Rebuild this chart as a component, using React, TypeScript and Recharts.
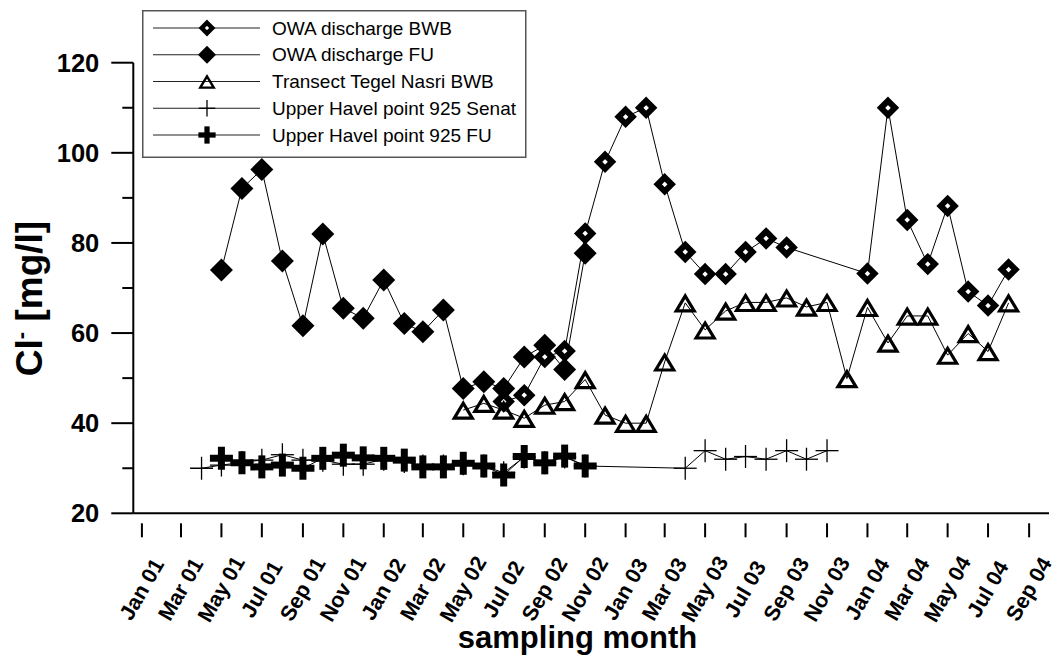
import React from 'react';
import { LineChart, Line, XAxis, YAxis, Legend } from 'recharts';

const FONT = "'Liberation Sans', Arial, Helvetica, sans-serif";

// Sampling months (first of month) and chloride concentrations in mg/l
const owaFuMonths = [
  '2001-05', '2001-06', '2001-07', '2001-08', '2001-09', '2001-10', '2001-11', '2001-12',
  '2002-01', '2002-02', '2002-03', '2002-04', '2002-05', '2002-06', '2002-07', '2002-08',
  '2002-09', '2002-10', '2002-11',
];
const owaFuValues = [
  74.0, 92.1, 96.3, 76.0, 61.6, 82.0, 65.5, 63.3,
  71.8, 62.1, 60.3, 65.1, 47.7, 49.2, 47.7, 54.7,
  57.3, 51.9, 77.7,
];

const owaBwbMonths = [
  '2002-07', '2002-08', '2002-09', '2002-10', '2002-11', '2002-12',
  '2003-01', '2003-02', '2003-03', '2003-04', '2003-05', '2003-06', '2003-07', '2003-08', '2003-09',
  '2004-01', '2004-02', '2004-03', '2004-04', '2004-05', '2004-06', '2004-07', '2004-08',
];
const owaBwbValues = [
  44.8, 46.2, 54.7, 56.0, 82.1, 98.0,
  108.0, 110.0, 93.0, 78.0, 73.1, 73.1, 78.0, 81.0, 79.0,
  73.2, 110.0, 85.1, 75.3, 88.2, 69.2, 66.1, 74.1,
];

const transectMonths = [
  '2002-05', '2002-06', '2002-07', '2002-08', '2002-09', '2002-10', '2002-11', '2002-12',
  '2003-01', '2003-02', '2003-03', '2003-04', '2003-05', '2003-06', '2003-07', '2003-08',
  '2003-09', '2003-10', '2003-11', '2003-12',
  '2004-01', '2004-02', '2004-03', '2004-04', '2004-05', '2004-06', '2004-07', '2004-08',
];
const transectValues = [
  42.9, 44.4, 42.9, 41.1, 44.0, 44.8, 49.7, 41.8,
  40.0, 40.0, 53.6, 66.7, 60.7, 64.9, 66.8, 66.8,
  67.8, 65.8, 66.8, 49.9,
  65.7, 57.8, 63.8, 63.8, 55.1, 59.9, 55.9, 66.7,
];

const havelSenatMonths = [
  '2001-04', '2001-05', '2001-06', '2001-07', '2001-08', '2001-09', '2001-10', '2001-11', '2001-12',
  '2002-01', '2002-02', '2002-03', '2002-04', '2002-05', '2002-06', '2002-07', '2002-08',
  '2002-09', '2002-10', '2002-11',
  '2003-04', '2003-05', '2003-06', '2003-07', '2003-08', '2003-09', '2003-10', '2003-11',
];
const havelSenatValues = [
  30.0, 30.7, 31.3, 31.8, 33.0, 31.8, 31.8, 30.9, 30.9,
  32.0, 31.5, 30.5, 30.5, 31.0, 30.5, 29.0, 32.5,
  31.2, 32.5, 30.5,
  30.0, 33.9, 32.0, 32.6, 32.0, 33.9, 32.0, 33.9,
];

const havelFuMonths = [
  '2001-05', '2001-06', '2001-07', '2001-08', '2001-09', '2001-10', '2001-11', '2001-12',
  '2002-01', '2002-02', '2002-03', '2002-04', '2002-05', '2002-06', '2002-07', '2002-08',
  '2002-09', '2002-10', '2002-11',
];
const havelFuValues = [
  32.2, 31.2, 30.3, 30.7, 30.0, 32.2, 32.9, 32.3,
  32.2, 31.8, 30.3, 30.3, 31.1, 30.5, 28.5, 32.6,
  31.2, 32.7, 30.5,
];

const tickMonths = [
  '2001-01', '2001-03', '2001-05', '2001-07', '2001-09', '2001-11',
  '2002-01', '2002-03', '2002-05', '2002-07', '2002-09', '2002-11',
  '2003-01', '2003-03', '2003-05', '2003-07', '2003-09', '2003-11',
  '2004-01', '2004-03', '2004-05', '2004-07', '2004-09',
];
const tickLabels = [
  'Jan 01', 'Mar 01', 'May 01', 'Jul 01', 'Sep 01', 'Nov 01',
  'Jan 02', 'Mar 02', 'May 02', 'Jul 02', 'Sep 02', 'Nov 02',
  'Jan 03', 'Mar 03', 'May 03', 'Jul 03', 'Sep 03', 'Nov 03',
  'Jan 04', 'Mar 04', 'May 04', 'Jul 04', 'Sep 04',
];

const yTicks = [20, 30, 40, 50, 60, 70, 80, 90, 100, 110, 120];

// days since 1 Jan 2001
const dayOf = (month: string) => {
  const [y, m] = month.split('-').map(Number);
  return (Date.UTC(y, m - 1, 1) - Date.UTC(2001, 0, 1)) / 86400000;
};
const toSeries = (months: string[], values: number[]) =>
  months.map((m, i) => ({ t: dayOf(m), v: values[i] }));

const owaFu = toSeries(owaFuMonths, owaFuValues);
const owaBwb = toSeries(owaBwbMonths, owaBwbValues);
const transect = toSeries(transectMonths, transectValues);
const havelSenat = toSeries(havelSenatMonths, havelSenatValues);
const havelFu = toSeries(havelFuMonths, havelFuValues);

const tickDays = tickMonths.map(dayOf);
const tickLabelByDay = new Map(tickDays.map((d, i) => [d, tickLabels[i]]));

type Shape = 'diamondOpen' | 'diamondFilled' | 'triangle' | 'plusThin' | 'plusThick';

const marker = (shape: Shape, cx: number, cy: number, s = 1, key?: React.Key) => {
  switch (shape) {
    case 'diamondOpen': {
      const h = 7 * s;
      return (
        <path key={key} d={`M${cx},${cy - h}L${cx + h},${cy}L${cx},${cy + h}L${cx - h},${cy}Z`}
          fill="#fff" stroke="#000" strokeWidth={6 * s} strokeLinejoin="miter" />
      );
    }
    case 'diamondFilled': {
      const h = 11.5 * s;
      return (
        <path key={key} d={`M${cx},${cy - h}L${cx + h},${cy}L${cx},${cy + h}L${cx - h},${cy}Z`} fill="#000" />
      );
    }
    case 'triangle': {
      const top = cy - 6.9 * s;
      const bot = cy + 8.1 * s;
      const w = 9 * s;
      return (
        <path key={key} d={`M${cx},${top}L${cx + w},${bot}L${cx - w},${bot}Z`}
          fill="#fff" fillOpacity={0} stroke="#000" strokeWidth={3.2 * s} strokeLinejoin="miter" />
      );
    }
    case 'plusThin': {
      const a = 11.5 * s;
      return (
        <g key={key}>
          <line x1={cx - a} x2={cx + a} y1={cy} y2={cy} stroke="#000" strokeWidth={1.3} />
          <line x1={cx} x2={cx} y1={cy - a} y2={cy + a} stroke="#000" strokeWidth={1.3} />
        </g>
      );
    }
    case 'plusThick':
    default: {
      const a = 11.5 * s;
      return (
        <g key={key}>
          <line x1={cx - a} x2={cx + a} y1={cy} y2={cy} stroke="#000" strokeWidth={7 * s} />
          <line x1={cx} x2={cx} y1={cy - a} y2={cy + a} stroke="#000" strokeWidth={7 * s} />
        </g>
      );
    }
  }
};

const dotOf = (shape: Shape) => (p: any) => marker(shape, p.cx, p.cy, 1, `${shape}-${p.index}`);

const legendItems: { name: string; shape: Shape }[] = [
  { name: 'OWA discharge BWB', shape: 'diamondOpen' },
  { name: 'OWA discharge FU', shape: 'diamondFilled' },
  { name: 'Transect Tegel Nasri BWB', shape: 'triangle' },
  { name: 'Upper Havel point 925 Senat', shape: 'plusThin' },
  { name: 'Upper Havel point 925 FU', shape: 'plusThick' },
];

const legendScale: Record<Shape, number> = {
  diamondOpen: 0.75,
  diamondFilled: 0.78,
  triangle: 0.75,
  plusThin: 0.72,
  plusThick: 0.75,
};

const LegendBox = () => (
  <svg width={385} height={149} style={{ display: 'block' }}>
    <rect x={0.75} y={0.75} width={383} height={146.5} fill="#fff" stroke="#555" strokeWidth={1.5} />
    {legendItems.map((it, i) => {
      const cy = 18 + i * 26.75;
      return (
        <g key={it.name}>
          <line x1={11} x2={118} y1={cy} y2={cy} stroke="#222" strokeWidth={1} />
          {marker(it.shape, 65, cy, legendScale[it.shape])}
          <text x={130} y={cy} dy={6.7} fontSize={19} fontFamily={FONT} fill="#000">
            {it.name}
          </text>
        </g>
      );
    })}
  </svg>
);

const XTick = (props: any) => {
  const { x, y, payload } = props;
  const ly = y + 76;
  return (
    <g>
      <line x1={x} x2={x} y1={y + 10} y2={y + 24} stroke="#000" strokeWidth={2} />
      <text x={x} y={ly} transform={`rotate(-60 ${x} ${ly})`} textAnchor="middle"
        dominantBaseline="central" fontFamily={FONT} fontWeight="bold" fontSize={21.5} fill="#000">
        {tickLabelByDay.get(payload.value)}
      </text>
    </g>
  );
};

const YTick = (props: any) => {
  const { x, y, payload } = props;
  const major = payload.value % 20 === 0;
  return (
    <g>
      <line x1={x - (major ? 22 : 11)} x2={x} y1={y} y2={y} stroke="#000" strokeWidth={2} />
      {major && (
        <text x={x - 34} y={y} dy={9} textAnchor="end" fontFamily={FONT} fontWeight="bold"
          fontSize={25.5} fill="#000">
          {payload.value}
        </text>
      )}
    </g>
  );
};

const XTitle = () => (
  <text x={577.5} y={648} textAnchor="middle" fontFamily={FONT} fontWeight="bold" fontSize={31} fill="#000">
    sampling month
  </text>
);

const YTitle = () => (
  <text x={42} y={298.5} transform="rotate(-90 42 298.5)" textAnchor="middle" fontFamily={FONT}
    fontWeight="bold" fontSize={37} fill="#000">
    Cl
    <tspan fontSize={22} dy={-14}>-</tspan>
    <tspan dy={14}> [mg/l]</tspan>
  </text>
);

export default function App() {
  return (
    <div style={{ position: 'absolute', left: 0, top: 0, width: 1057, height: 656, background: '#fff' }}>
      <LineChart
        width={1057}
        height={656}
        margin={{ top: 62.7, right: 8, bottom: 112.7, left: 73.3 }}
      >
        <XAxis
          type="number"
          dataKey="t"
          domain={[-13, 1369]}
          allowDataOverflow
          ticks={tickDays}
          interval={0}
          tick={<XTick />}
          tickLine={false}
          tickSize={0}
          tickMargin={0}
          height={30}
          axisLine={{ stroke: '#000', strokeWidth: 2 }}
          label={{ value: 'sampling month', content: () => <XTitle /> }}
        />
        <YAxis
          type="number"
          domain={[20, 120]}
          allowDataOverflow
          ticks={yTicks}
          interval={0}
          tick={<YTick />}
          tickLine={false}
          tickSize={0}
          tickMargin={0}
          width={60}
          axisLine={{ stroke: '#000', strokeWidth: 2 }}
          label={{ value: 'Cl- [mg/l]', content: () => <YTitle /> }}
        />
        <Legend
          layout="vertical"
          align="center"
          verticalAlign="middle"
          content={() => <LegendBox />}
          wrapperStyle={{ left: 142, top: 10, width: 385, height: 149 }}
        />
        <Line data={owaFu} dataKey="v" name="OWA discharge FU" stroke="#000" strokeWidth={1}
          dot={dotOf('diamondFilled')} activeDot={false} isAnimationActive={false} />
        <Line data={owaBwb} dataKey="v" name="OWA discharge BWB" stroke="#000" strokeWidth={1}
          dot={dotOf('diamondOpen')} activeDot={false} isAnimationActive={false} />
        <Line data={transect} dataKey="v" name="Transect Tegel Nasri BWB" stroke="#000" strokeWidth={1}
          dot={dotOf('triangle')} activeDot={false} isAnimationActive={false} />
        <Line data={havelSenat} dataKey="v" name="Upper Havel point 925 Senat" stroke="#000" strokeWidth={1}
          dot={dotOf('plusThin')} activeDot={false} isAnimationActive={false} />
        <Line data={havelFu} dataKey="v" name="Upper Havel point 925 FU" stroke="#000" strokeWidth={1}
          dot={dotOf('plusThick')} activeDot={false} isAnimationActive={false} />
      </LineChart>
    </div>
  );
}
